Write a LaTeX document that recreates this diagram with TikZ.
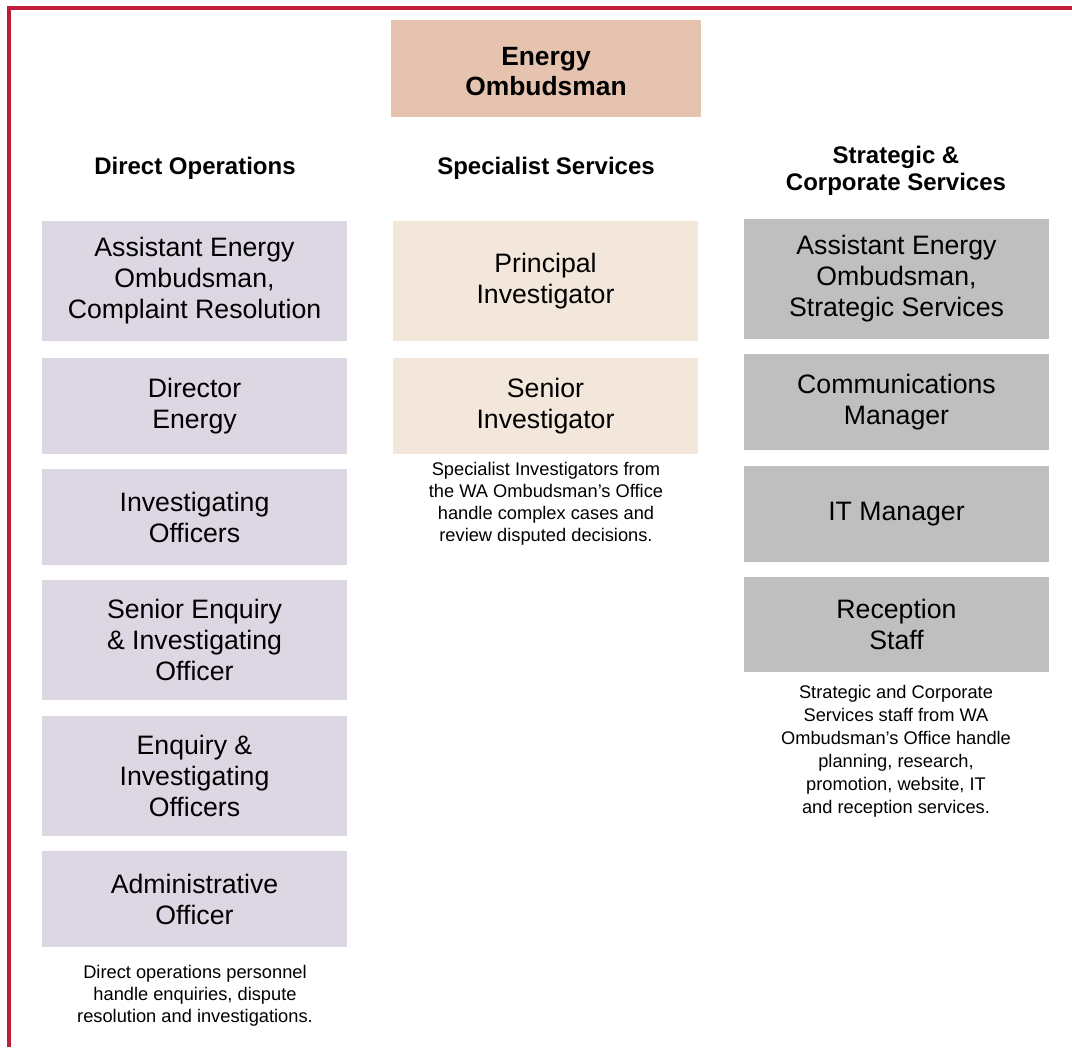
\documentclass[tikz,border=0pt]{standalone}
\usepackage{fontspec}
\setmainfont{Liberation Sans}
\usetikzlibrary{positioning}

\definecolor{ombred}{HTML}{BE1E3C}
\definecolor{headfill}{HTML}{E6C3AE}
\definecolor{opsfill}{HTML}{DDD7E4}
\definecolor{specfill}{HTML}{F3E6DA}
\definecolor{corpfill}{HTML}{BFBFBF}
\newcommand{\lowered}[1]{\raisebox{-2.2pt}[\height][\depth]{#1}}

\begin{document}
\begin{tikzpicture}[x=0.75pt,y=-0.75pt]
\tikzset{
  unit/.style={inner sep=0pt,outer sep=0pt,align=center,minimum width=228.75pt,
    font=\fontsize{20}{23.25}\selectfont},
  opsbox/.style={unit,fill=opsfill},
  specbox/.style={unit,fill=specfill},
  corpbox/.style={unit,fill=corpfill},
  tall/.style={minimum height=90pt},
  short/.style={minimum height=72pt},
  colhead/.style={align=center,font=\fontsize{18}{20.25}\selectfont\bfseries},
  remark/.style={align=center,font=\fontsize{13.7}{16.5}\selectfont}
}
\useasboundingbox (0,0) rectangle (1072,1047);
% frame
\draw[ombred,line width=2.6pt] (9,1047) -- (9,8) -- (1072,8);

% head of office
\node[fill=headfill,inner sep=0pt,minimum width=232.5pt,minimum height=72.75pt,
  align=center,font=\fontsize{19.8}{22.5}\selectfont\bfseries]
  (eo) at (546,68.5) {\lowered{Energy}\\\lowered{Ombudsman}};

% column headings
\node[colhead] (h_ops)  at (195,168) {Direct Operations};
\node[colhead] (h_spec) at (546,168) {Specialist Services};
\node[colhead] (h_corp) at (896,171) {Strategic \&\\Corporate Services};

% direct operations
\node[opsbox,tall]  (ops1) at (194.5,281) {Assistant Energy\\Ombudsman,\\Complaint Resolution};
\node[opsbox,short] (ops2) at (194.5,406) {Director\\Energy};
\node[opsbox,short] (ops3) at (194.5,517) {Investigating\\Officers};
\node[opsbox,tall]  (ops4) at (194.5,640) {Senior Enquiry\\\& Investigating\\Officer};
\node[opsbox,tall]  (ops5) at (194.5,776) {Enquiry \&\\Investigating\\Officers};
\node[opsbox,short] (ops6) at (194.5,899) {Administrative\\Officer};
\node[remark] (n_ops) at (195,996) {Direct operations personnel\\handle enquiries, dispute\\resolution and investigations.};

% specialist services
\node[specbox,tall]  (spec1) at (545.5,281) {Principal\\Investigator};
\node[specbox,short] (spec2) at (545.5,406) {Senior\\Investigator};
\node[remark] (n_spec) at (546,504) {Specialist Investigators from\\the WA Ombudsman’s Office\\handle complex cases and\\review disputed decisions.};

% strategic and corporate services
\node[corpbox,tall]  (corp1) at (896.5,279) {Assistant Energy\\Ombudsman,\\Strategic Services};
\node[corpbox,short] (corp2) at (896.5,402) {Communications\\Manager};
\node[corpbox,short] (corp3) at (896.5,514) {IT Manager};
\node[corpbox,short,minimum height=71.25pt] (corp4) at (896.5,624.5) {Reception\\Staff};
\node[remark,font=\fontsize{13.7}{17.2}\selectfont] (n_corp) at (896,751) {Strategic and Corporate\\Services staff from WA\\Ombudsman’s Office handle\\planning, research,\\promotion, website, IT\\and reception services.};
\end{tikzpicture}
\end{document}
